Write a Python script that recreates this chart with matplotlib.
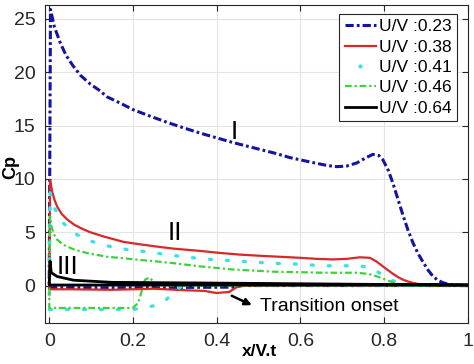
import numpy as np
import matplotlib
matplotlib.use("Agg")
import matplotlib.pyplot as plt
from matplotlib.lines import Line2D

plt.rcParams['font.family'] = ['Liberation Sans', 'DejaVu Sans']

# --- data (upper surface 0 -> 1, lower surface 1 -> 0) ---
labels = ['U/V :0.23', 'U/V :0.38', 'U/V :0.41', 'U/V :0.46', 'U/V :0.64']

# U/V 0.23
x_up_023 = [0.003, 0.012, 0.026, 0.04, 0.057, 0.075, 0.098, 0.12, 0.138, 0.17,
            0.2, 0.24, 0.282, 0.32, 0.36, 0.4, 0.44, 0.47, 0.5, 0.54,
            0.575, 0.61, 0.64, 0.665, 0.687, 0.71, 0.735, 0.755, 0.773, 0.787,
            0.797, 0.81, 0.821, 0.833, 0.845, 0.857, 0.869, 0.881, 0.893, 0.905,
            0.916, 0.928, 0.94, 0.955, 0.97, 1.0]
cp_up_023 = [25.9, 24.3, 22.8, 21.6, 20.6, 19.7, 18.9, 18.3, 17.7, 17.1,
             16.5, 15.9, 15.3, 14.8, 14.3, 13.85, 13.4, 13.1, 12.8, 12.4,
             12.0, 11.7, 11.45, 11.25, 11.15, 11.2, 11.5, 11.95, 12.3, 12.2,
             11.8, 10.8, 9.6, 8.1, 6.6, 5.2, 4.0, 3.0, 2.2, 1.45,
             0.9, 0.5, 0.28, 0.1, 0.03, 0.0]
x_lo_023 = [1.0, 0.46, 0.44, 0.2, 0.0]
cp_lo_023 = [0.0, 0.0, -0.15, -0.2, -0.2]

# U/V 0.38
x_up_038 = [0.002, 0.007, 0.013, 0.019, 0.03, 0.043, 0.06, 0.08, 0.098, 0.13,
            0.177, 0.22, 0.258, 0.3, 0.36, 0.41, 0.456, 0.5, 0.55, 0.6,
            0.64, 0.678, 0.71, 0.742, 0.766, 0.782, 0.797, 0.809, 0.821, 0.833,
            0.845, 0.857, 0.869, 0.885, 0.9, 1.0]
cp_up_038 = [9.9, 8.8, 8.0, 7.4, 6.7, 6.2, 5.7, 5.3, 5.0, 4.6,
             4.1, 3.85, 3.65, 3.45, 3.25, 3.05, 2.9, 2.8, 2.7, 2.6,
             2.5, 2.45, 2.5, 2.65, 2.6, 2.25, 1.8, 1.45, 1.1, 0.8,
             0.55, 0.38, 0.25, 0.12, 0.05, 0.0]
x_lo_038 = [1.0, 0.47, 0.45, 0.43, 0.40, 0.37, 0.33, 0.25, 0.15, 0.05, 0.0]
cp_lo_038 = [0.0, 0.0, -0.1, -0.6, -0.7, -0.5, -0.45, -0.3, -0.4, -0.35, -0.35]

# U/V 0.41
x_up_041 = [0.002, 0.008, 0.019, 0.03, 0.043, 0.065, 0.09, 0.12, 0.153, 0.19,
            0.225, 0.272, 0.31, 0.344, 0.4, 0.45, 0.527, 0.6, 0.654, 0.7,
            0.735, 0.759, 0.775, 0.79, 0.802, 0.814, 0.83, 0.845, 0.86, 1.0]
cp_up_041 = [8.7, 7.6, 6.8, 6.0, 5.5, 4.8, 4.3, 3.9, 3.6, 3.35,
             3.2, 2.95, 2.75, 2.6, 2.4, 2.3, 2.1, 2.0, 1.85, 1.85,
             1.85, 1.75, 1.5, 1.15, 0.85, 0.56, 0.3, 0.12, 0.03, 0.0]
x_lo_041 = [1.0, 0.36, 0.33, 0.305, 0.28, 0.25, 0.217, 0.2, 0.1, 0.0]
cp_lo_041 = [0.0, 0.1, 0.35, -0.4, -1.3, -1.9, -2.15, -2.25, -2.25, -2.25]

# U/V 0.46
x_up_046 = [0.002, 0.005, 0.01, 0.019, 0.035, 0.058, 0.09, 0.138, 0.18, 0.217,
            0.26, 0.297, 0.36, 0.4, 0.44, 0.49, 0.535, 0.6, 0.654, 0.7,
            0.735, 0.76, 0.772, 0.783, 0.795, 0.807, 0.82, 0.835, 0.85, 1.0]
cp_up_046 = [6.5, 5.6, 4.9, 4.3, 3.8, 3.4, 3.05, 2.7, 2.55, 2.4,
             2.25, 2.1, 1.8, 1.65, 1.5, 1.4, 1.3, 1.25, 1.2, 1.2,
             1.2, 1.1, 1.0, 0.85, 0.68, 0.5, 0.3, 0.12, 0.02, 0.0]
x_lo_046 = [1.0, 0.26, 0.25, 0.24, 0.229, 0.222, 0.213, 0.2, 0.1, 0.0]
cp_lo_046 = [0.0, 0.0, 0.3, 0.75, 0.56, -0.4, -1.6, -2.1, -2.1, -2.1]

# U/V 0.64
x_up_064 = [0.002, 0.005, 0.019, 0.058, 0.15, 0.5, 0.8, 1.0]
cp_up_064 = [2.3, 1.2, 0.85, 0.5, 0.3, 0.2, 0.1, 0.05]
x_lo_064 = [1.0, 0.0]
cp_lo_064 = [0.05, 0.05]

xticks = [0, 0.2, 0.4, 0.6, 0.8, 1]
xticklabels = ['0', '0.2', '0.4', '0.6', '0.8', '1']
yticks = [0, 5, 10, 15, 20, 25]

colors = ['#1414a0', '#d82828', '#3ce0e6', '#3cd23c', '#000000']
styles = [dict(ls=(0, (2.7, 1, 0.9, 1)), lw=2.2),
          dict(ls='-', lw=1.6),
          dict(ls=(0, (0.6, 4.5)), lw=2.4, dash_capstyle='round'),
          dict(ls=(0, (3, 1.3, 1, 1.3)), lw=1.6),
          dict(ls='-', lw=2.0)]

series = [(x_lo_023 + x_up_023, cp_lo_023 + cp_up_023),
          (x_lo_038 + x_up_038, cp_lo_038 + cp_up_038),
          (x_lo_041 + x_up_041, cp_lo_041 + cp_up_041),
          (x_lo_046 + x_up_046, cp_lo_046 + cp_up_046),
          (x_lo_064 + x_up_064, cp_lo_064 + cp_up_064)]

fig = plt.figure(figsize=(4.74, 3.64), dpi=100)
ax = fig.add_axes([0.095, 0.113, 0.892, 0.873])

handles = []
for (x, cp), c, st, lab in zip(series, colors, styles, labels):
    h, = ax.plot(x, cp, color=c, label=lab, **st)
    handles.append(h)
# the 0.41 case shows as a single dot in the legend
handles[2] = Line2D([], [], ls='none', marker='.', ms=4, color=colors[2], label=labels[2])

ax.set_xlim(-0.01, 1.0)
ax.set_ylim(-3.5, 26.3)
ax.set_xticks(xticks)
ax.set_xticklabels(xticklabels)
ax.set_yticks(yticks)
ax.grid(True, color='#e3e3e3', lw=0.8)
ax.set_axisbelow(True)
ax.tick_params(direction='in', top=True, right=True, length=4, width=0.8,
               labelsize=14, pad=7, colors='#262626')
for s in ax.spines.values():
    s.set_color('#262626')
    s.set_linewidth(0.8)

ax.set_xlabel('x/V.t', fontsize=12.5, fontweight='bold')
ax.xaxis.set_label_coords(0.507, -0.068)
ax.set_ylabel('Cp', fontsize=13, fontweight='bold')
ax.yaxis.set_label_coords(-0.062, 0.49)

ax.text(0.441, 14.4, 'I', fontsize=19, ha='center', va='center')
ax.text(0.300, 4.9, 'II', fontsize=19, ha='center', va='center')
ax.text(0.043, 1.7, 'III', fontsize=19, ha='center', va='center')

ax.annotate('', xy=(0.49, -1.95), xytext=(0.43, -0.85),
            arrowprops=dict(arrowstyle='-|>', color='black', lw=1.8, mutation_scale=10))
ax.text(0.504, -2.0, 'Transition onset', fontsize=14, ha='left', va='center')

leg = ax.legend(handles=handles, loc='upper right', bbox_to_anchor=(0.975, 0.972),
                fontsize=12.5, handlelength=1.8, handletextpad=0.2, labelspacing=0.3,
                borderpad=0.3, borderaxespad=0, fancybox=False, framealpha=1)
leg.get_frame().set_edgecolor('#262626')
leg.get_frame().set_linewidth(0.8)

fig.savefig('out.png', dpi=100)
